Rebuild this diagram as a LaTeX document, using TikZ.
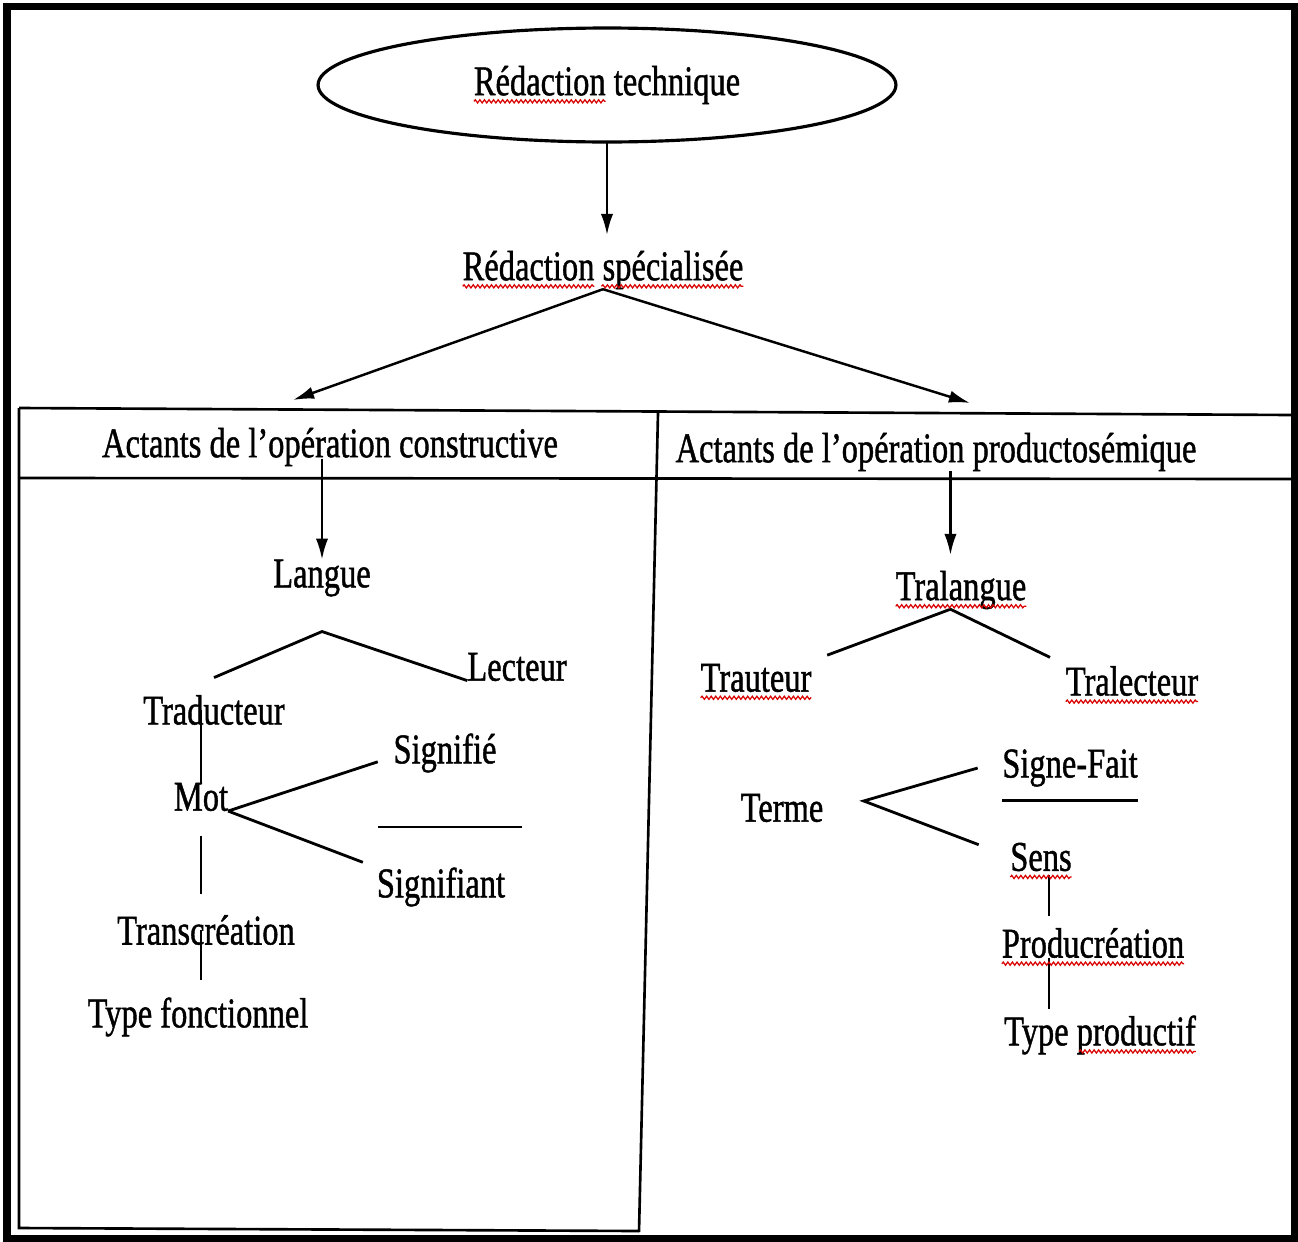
\documentclass[tikz,border=0pt]{standalone}
\usepackage{fontspec}
\setmainfont{Liberation Serif}[UprightFeatures={FakeBold=1.2}]
\usepackage{graphicx}
\usetikzlibrary{shapes.geometric, arrows.meta, decorations.pathmorphing}

\newcommand{\lblfont}{\fontsize{18.5}{22}\selectfont}
\newcommand{\tallbox}[1]{\scalebox{1}[1.3]{#1}}

\begin{document}
\begin{tikzpicture}[x=0.02cm, y=-0.02cm,
  lbl/.style={inner sep=0pt, outer sep=0pt, font=\lblfont},
  ln/.style={line width=1.6pt},
  arr/.style={line width=1.4pt, -{Latex[length=12pt,width=7pt]}},
  tab/.style={line width=1.5pt},
  spell/.style={draw=red!85!black, line width=0.7pt, decorate,
    decoration={snake, amplitude=0.9pt, segment length=2.6pt}}]
\useasboundingbox (0,0) rectangle (1298,1241);
\draw[line width=4pt] (7,6.5) rectangle (1294,1238);

% table
\draw[tab] (19,408) -- (1292,415);
\draw[tab] (19,478) -- (1292,479);
\draw[tab] (19,408) -- (19,1228) -- (639,1231);
\draw[tab] (658,413) -- (639,1232);

\node[lbl, ellipse, draw, line width=1.8pt, minimum width=11.56cm, minimum height=2.28cm] (title) at (607,85) {\tallbox{Rédaction technique}};
\node[lbl] (spec) at (603,270) {\tallbox{Rédaction spécialisée}};
\node[lbl] (hdL) at (330,447) {\tallbox{Actants de l’opération constructive}};
\node[lbl] (hdR) at (936,452) {\tallbox{Actants de l’opération productosémique}};

\node[lbl] (lang) at (322,578) {\tallbox{Langue}};
\node[lbl] (lect) at (517,667) {\tallbox{Lecteur}};
\node[lbl] (trad) at (214,710) {\tallbox{Traducteur}};
\node[lbl] (mot) at (201,797) {\tallbox{Mot}};
\node[lbl] (sigfie) at (445,753) {\tallbox{Signifié}};
\node[lbl] (sigfiant) at (441,887) {\tallbox{Signifiant}};
\node[lbl] (transc) at (206,930) {\tallbox{Transcréation}};
\node[lbl] (typef) at (198,1017) {\tallbox{Type fonctionnel}};

\node[lbl] (tral) at (961,590) {\tallbox{Tralangue}};
\node[lbl] (traut) at (756,678) {\tallbox{Trauteur}};
\node[lbl] (tralect) at (1132,681) {\tallbox{Tralecteur}};
\node[lbl] (signe) at (1070,768) {\tallbox{Signe-Fait}};
\node[lbl] (terme) at (782,808) {\tallbox{Terme}};
\node[lbl] (sens) at (1041,857) {\tallbox{Sens}};
\node[lbl] (prod) at (1093,943) {\tallbox{Producréation}};
\node[lbl] (typep) at (1100,1035) {\tallbox{Type productif}};

\coordinate (tipL) at (293,400);
\coordinate (tipR) at (970,403);
\coordinate (tralTop) at ([xshift=-6pt]tral.north);
\coordinate (apexR) at ([xshift=-6pt]tral.south);
\coordinate (vR) at ([xshift=4.5pt]sens.south);

\draw[arr, shorten >=9pt] (title.south) -- (title.south |- spec.north);
\draw[arr] (spec.south) -- (tipL);
\draw[arr] (spec.south) -- (tipR);

% left side
\draw[arr] ([yshift=4pt]hdL.south -| lang.north) -- (lang.north);
\draw[ln] ([yshift=10pt]trad.north) -- ([yshift=-20pt]lang.south) -- (lect.base west);
\draw[ln] (mot.north |- trad.center) -- (mot.north);
\draw[ln] (mot.south east) -- ([xshift=-9pt,yshift=-5pt]sigfie.west);
\draw[ln] (mot.south east) -- ([xshift=-8pt,yshift=3pt]sigfiant.north west);
\draw[ln] (378,827) -- (522,827);
\draw[ln, shorten <=14pt, shorten >=12pt] (mot.south) -- (mot.south |- transc.north);
\draw[ln, shorten >=10pt] (mot.south |- transc.center) -- (mot.south |- typef.north);

% right side
\draw[arr, shorten >=9pt] (hdR.south -| tralTop) -- (tralTop);
\draw[ln] ([xshift=9pt,yshift=5pt]traut.north east) -- (apexR) -- ([xshift=-9pt,yshift=5pt]tralect.north west);
\draw[ln] ([xshift=-14pt]signe.west) -- ([xshift=23pt,yshift=4pt]terme.east) -- ([xshift=-18pt,yshift=7pt]sens.west);
\draw[ln] ([yshift=-8pt]signe.south west) -- ([yshift=-8pt]signe.south east);
\draw[ln, shorten <=2pt, shorten >=7pt] (vR) -- (vR |- prod.north);
\draw[ln, shorten >=3.5pt] (vR |- prod.south) -- (vR |- typep.north);

% spelling marks
\draw[spell] ([yshift=-3.5pt]title.text) -- ++(75pt,0);
\draw[spell] ([yshift=-3.5pt]spec.base west) -- ++(75pt,0);
\draw[spell] ([xshift=79pt,yshift=-3.5pt]spec.base west) -- ([yshift=-3.5pt]spec.base east);
\draw[spell] ([yshift=-3.5pt]tral.base west) -- ([yshift=-3.5pt]tral.base east);
\draw[spell] ([yshift=-3.5pt]traut.base west) -- ([yshift=-3.5pt]traut.base east);
\draw[spell] ([yshift=-3.5pt]tralect.base west) -- ([yshift=-3.5pt]tralect.base east);
\draw[spell] ([yshift=-3.5pt]sens.base west) -- ([yshift=-3.5pt]sens.base east);
\draw[spell] ([yshift=-3.5pt]prod.base west) -- ([yshift=-3.5pt]prod.base east);
\draw[spell] ([xshift=42.6pt,yshift=-3.5pt]typep.base west) -- ([yshift=-3.5pt]typep.base east);
\end{tikzpicture}
\end{document}
